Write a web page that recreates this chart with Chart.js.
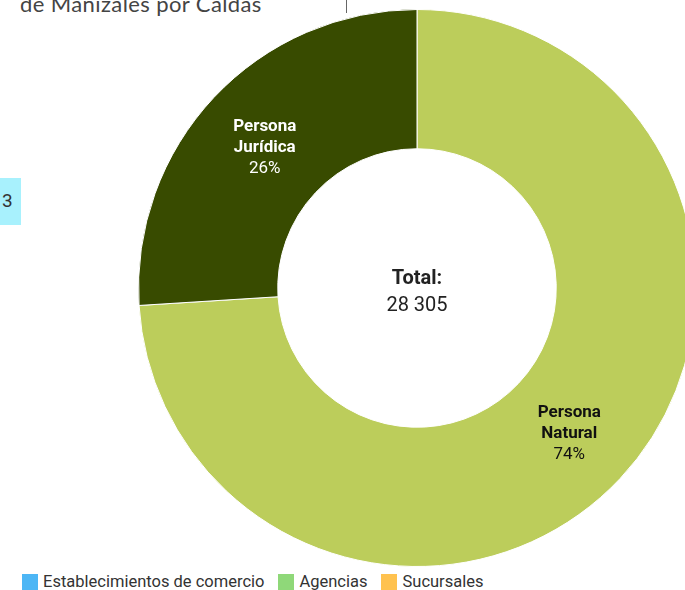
<!DOCTYPE html>
<html>
<head>
<meta charset="utf-8">
<script src="https://cdn.jsdelivr.net/npm/chart.js@4"></script>
<style>
  html, body { margin: 0; padding: 0; background: #fff; overflow: hidden; }
  body { width: 685px; height: 590px; position: relative; font-family: Roboto, sans-serif; }
  #title { position: absolute; left: 20px; top: -10px; font-family: Lato, sans-serif; font-size: 22px; letter-spacing: 0.4px; color: #444; white-space: nowrap; }
  #divider { position: absolute; left: 346px; top: 0; width: 1px; height: 13px; background: #666; }
  #tab { position: absolute; left: 0; top: 178px; width: 21px; height: 47px; background: #a8f1fd; color: #333; font-size: 19px; line-height: 46px; text-indent: 2px; }
  #wrap { position: absolute; left: 138px; top: 9px; width: 558px; height: 558px; }
  #legend { position: absolute; left: 22px; top: 572px; font-size: 16.5px; color: #333; white-space: nowrap; }
  #legend span.item { display: inline-block; margin-right: 14px; }
  #legend span.box { display: inline-block; width: 16px; height: 16px; vertical-align: -3px; margin-right: 5px; }
</style>
</head>
<body>
<div id="title">de Manizales por Caldas</div>
<div id="divider"></div>
<div id="tab">3</div>
<div id="wrap"><canvas id="myChart"></canvas></div>
<div id="legend"></div>
<script>
  'use strict';

  // Data
  const categories = ['Persona Natural', 'Persona Jurídica'];
  const labelLines = [['Persona', 'Natural'], ['Persona', 'Jurídica']];
  const values = [20946, 7359];
  const sliceColors = ['#bccd5b', '#384b00'];
  const labelColors = ['#111', '#fff'];

  const legendItems = ['Establecimientos de comercio', 'Agencias', 'Sucursales'];
  const legendColors = ['#4db6f5', '#8fd879', '#ffc24f'];

  const total = values.reduce((a, b) => a + b, 0);

  // Legend under the chart (belongs to another card)
  const legend = document.getElementById('legend');
  legendItems.forEach((name, i) => {
    const item = document.createElement('span');
    item.className = 'item';
    item.innerHTML = '<span class="box" style="background:' + legendColors[i] + '"></span>' + name;
    legend.appendChild(item);
  });

  // Slice labels + center total
  const labelPlugin = {
    id: 'sliceLabels',
    afterDatasetsDraw(chart) {
      const ctx = chart.ctx;
      const meta = chart.getDatasetMeta(0);
      ctx.save();
      ctx.textAlign = 'center';
      ctx.textBaseline = 'middle';
      meta.data.forEach((arc, i) => {
        const pos = arc.tooltipPosition();
        const y = pos.y + 3;
        const pct = Math.round(values[i] / total * 100) + '%';
        ctx.fillStyle = labelColors[i];
        ctx.font = 'bold 17px Roboto';
        ctx.fillText(labelLines[i][0], pos.x, y - 21);
        ctx.fillText(labelLines[i][1], pos.x, y);
        ctx.font = '17px Roboto';
        ctx.fillText(pct, pos.x, y + 21);
      });
      const cx = meta.data[0].x;
      const cy = meta.data[0].y;
      ctx.fillStyle = '#222';
      ctx.font = 'bold 20px Roboto';
      ctx.fillText('Total:', cx, cy - 9);
      ctx.font = '20px Roboto';
      ctx.fillText(total.toLocaleString('fr-FR').replace(/\s/g, ' '), cx, cy + 18);
      ctx.restore();
    }
  };

  const ctx = document.getElementById('myChart');
  // eslint-disable-next-line no-unused-vars
  const myChart = new Chart(ctx, {
    type: 'doughnut',
    data: {
      labels: categories,
      datasets: [{
        data: values,
        backgroundColor: sliceColors,
        borderColor: '#fff',
        borderWidth: 1
      }]
    },
    options: {
      responsive: true,
      maintainAspectRatio: false,
      animation: false,
      cutout: '50%',
      plugins: {
        legend: { display: false },
        tooltip: { enabled: false }
      }
    },
    plugins: [labelPlugin]
  });
</script>
</body>
</html>
